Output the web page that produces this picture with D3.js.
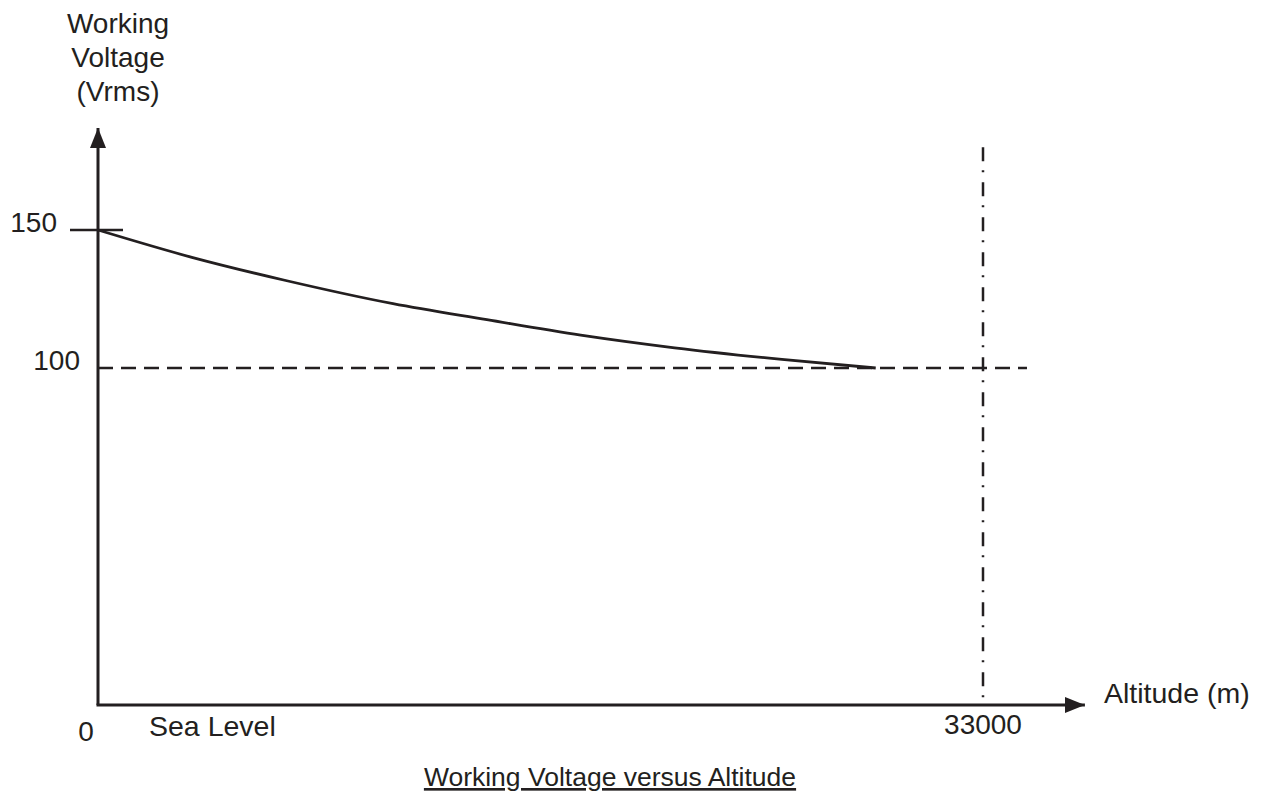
<!DOCTYPE html>
<html>
<head>
<meta charset="utf-8">
<script src="https://cdn.jsdelivr.net/npm/d3@7"></script>
<style>
  body { margin:0; background:#fff; }
  svg text { font-family: "Liberation Sans", Arial, sans-serif; fill:#231f20; }
</style>
</head>
<body>
<svg id="chart" width="1272" height="796"></svg>
<script>
// data
var altitude = [0, 3500, 7000, 11000, 14500, 18000, 21500, 25500, 29000];
var voltage  = [150, 140.1, 131.7, 123.3, 117.5, 111.9, 107.3, 103.1, 100];
var yTicks = [150, 100];
var limitAltitude = 33000;
var limitVoltage = 100;

var ink = "#231f20";
var svg = d3.select("#chart");

// schematic scales: y has a break below 100 so 0 sits at the axis
var x = d3.scaleLinear().domain([0, 33000]).range([98, 983]);
var y = d3.scaleLinear().domain([0, 100, 150]).range([705, 368, 230]);

var xEnd = 36800, yEnd = 187;

svg.append("defs").append("marker")
  .attr("id", "arrow").attr("viewBox", "0 0 20 16")
  .attr("refX", 20).attr("refY", 8)
  .attr("markerWidth", 20).attr("markerHeight", 16)
  .attr("markerUnits", "userSpaceOnUse").attr("orient", "auto")
  .append("path").attr("d", "M0,0L20,8L0,16Z").attr("fill", ink);

// axes
svg.append("line")
  .attr("x1", x(0)).attr("y1", y(0)).attr("x2", x(0)).attr("y2", y(yEnd))
  .attr("stroke", ink).attr("stroke-width", 3).attr("marker-end", "url(#arrow)");
svg.append("line")
  .attr("x1", x(0) - 1.5).attr("y1", y(0)).attr("x2", x(xEnd)).attr("y2", y(0))
  .attr("stroke", ink).attr("stroke-width", 3).attr("marker-end", "url(#arrow)");

// 150 tick crosses the axis
svg.append("line")
  .attr("x1", x(0) - 28).attr("x2", x(0) + 25)
  .attr("y1", y(yTicks[0])).attr("y2", y(yTicks[0]))
  .attr("stroke", ink).attr("stroke-width", 2.5);

// reference lines
svg.append("line")
  .attr("x1", x(0)).attr("x2", x(34640))
  .attr("y1", y(limitVoltage)).attr("y2", y(limitVoltage))
  .attr("stroke", ink).attr("stroke-width", 2.5).attr("stroke-dasharray", "15,8");
svg.append("line")
  .attr("x1", x(limitAltitude)).attr("x2", x(limitAltitude))
  .attr("y1", y(180)).attr("y2", y(0))
  .attr("stroke", ink).attr("stroke-width", 2.5).attr("stroke-dasharray", "14,9,2,10");

// curve
var pts = altitude.map(function(a, i) { return [a, voltage[i]]; });
svg.append("path")
  .attr("d", d3.line().x(function(d) { return x(d[0]); }).y(function(d) { return y(d[1]); })
    .curve(d3.curveMonotoneX)(pts))
  .attr("fill", "none").attr("stroke", ink).attr("stroke-width", 2.8);

// tick labels
svg.append("text").attr("x", 57).attr("y", 232).attr("text-anchor", "end")
  .style("font-size", "28px").text(yTicks[0]);
svg.append("text").attr("x", 80).attr("y", 370).attr("text-anchor", "end")
  .style("font-size", "28px").text(yTicks[1]);
svg.append("text").attr("x", 86).attr("y", 741).attr("text-anchor", "middle")
  .style("font-size", "28px").text("0");
svg.append("text").attr("x", 149).attr("y", 736)
  .style("font-size", "28.5px").text("Sea Level");
svg.append("text").attr("x", x(limitAltitude)).attr("y", 734).attr("text-anchor", "middle")
  .style("font-size", "28px").text(limitAltitude);
svg.append("text").attr("x", 1104).attr("y", 703)
  .style("font-size", "28.5px").text("Altitude (m)");

// y title
svg.append("text").attr("x", 118).attr("text-anchor", "middle")
  .style("font-size", "28px")
  .selectAll("tspan").data(["Working", "Voltage", "(Vrms)"]).enter()
  .append("tspan").attr("x", 118).attr("y", function(d, i) { return 33 + i * 34; })
  .text(function(d) { return d; });

// caption
svg.append("text").attr("x", 610).attr("y", 786).attr("text-anchor", "middle")
  .style("font-size", "26.5px").style("text-decoration", "underline")
  .text("Working Voltage versus Altitude");
</script>
</body>
</html>
